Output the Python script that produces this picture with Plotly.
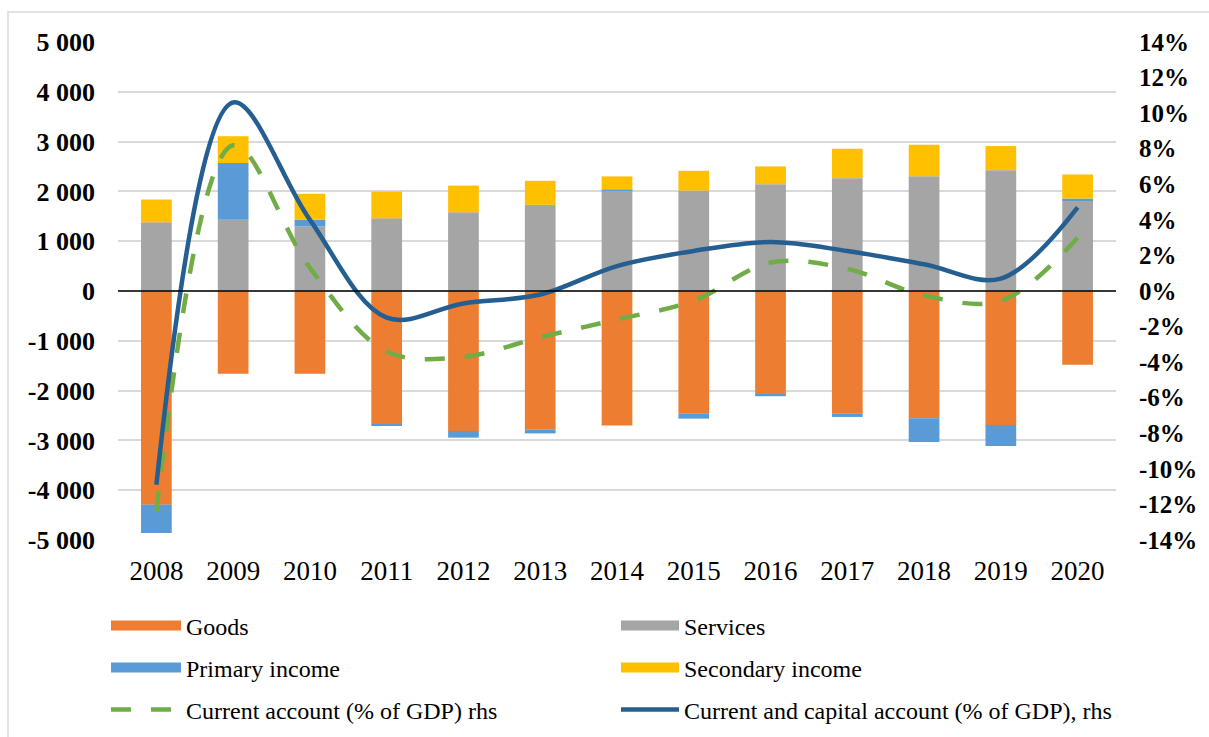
import plotly.graph_objects as go

years = ['2008', '2009', '2010', '2011', '2012', '2013', '2014', '2015', '2016', '2017', '2018', '2019', '2020']
goods = [-4290, -1660, -1660, -2680, -2810, -2780, -2700, -2455, -2080, -2455, -2555, -2690, -1480]
services = [1380, 1430, 1295, 1460, 1580, 1730, 2018, 2018, 2145, 2266, 2306, 2427, 1817]
primary_income = [-570, 1140, 140, -15, -135, -80, 15, -108, -33, -74, -477, -423, 40]
secondary_income = [457, 538, 517, 537, 537, 483, 268, 396, 356, 591, 632, 483, 483]
current_account = [-12.4, 8.2, 1.3, -3.4, -3.7, -2.6, -1.6, -0.55, 1.6, 1.25, -0.25, -0.55, 3.0]
cur_cap_account = [-10.9, 10.6, 4.0, -1.5, -0.7, -0.2, 1.4, 2.25, 2.75, 2.25, 1.5, 0.7, 4.7]

left_tickvals = [-5000, -4000, -3000, -2000, -1000, 0, 1000, 2000, 3000, 4000, 5000]
left_ticktext = ['-5 000', '-4 000', '-3 000', '-2 000', '-1 000', '0', '1 000', '2 000', '3 000', '4 000', '5 000']
right_tickvals = [-14, -12, -10, -8, -6, -4, -2, 0, 2, 4, 6, 8, 10, 12, 14]
right_ticktext = ['-14%', '-12%', '-10%', '-8%', '-6%', '-4%', '-2%', '0%', '2%', '4%', '6%', '8%', '10%', '12%', '14%']

C_GOODS = '#ED7D31'
C_SERV = '#A5A5A5'
C_PRIM = '#5B9BD5'
C_SEC = '#FFC000'
C_CA = '#70AD47'
C_CCA = '#255E91'
FONT = 'Liberation Serif'

fig = go.Figure()
for name, vals, col in [('Goods', goods, C_GOODS), ('Services', services, C_SERV),
                        ('Primary income', primary_income, C_PRIM), ('Secondary income', secondary_income, C_SEC)]:
    fig.add_trace(go.Bar(x=years, y=vals, name=name, marker=dict(color=col, line=dict(width=0)),
                         showlegend=False))

fig.add_trace(go.Scatter(x=years, y=current_account, yaxis='y2', mode='lines', showlegend=False,
                         line=dict(color=C_CA, width=4.5, dash='20px,20px', shape='spline', smoothing=1)))
fig.add_trace(go.Scatter(x=years, y=cur_cap_account, yaxis='y2', mode='lines', showlegend=False,
                         line=dict(color=C_CCA, width=4.5, shape='spline', smoothing=1)))


def py(p):
    # pixel row -> paper y (plot area spans pixel rows 42..540)
    return (540 - p) / 498.0


def px(p):
    # pixel column -> paper x (plot area spans pixel columns 118..1116)
    return (p - 118) / 998.0


# legend entries (dummy traces so the symbols look like the reference), one legend per slot
legend_items = [
    ('Goods', dict(color=C_GOODS, width=12), 'legend', 0, 626),
    ('Services', dict(color=C_SERV, width=12), 'legend2', 1, 626),
    ('Primary income', dict(color=C_PRIM, width=12), 'legend3', 0, 668),
    ('Secondary income', dict(color=C_SEC, width=12), 'legend4', 1, 668),
    ('Current account (% of GDP) rhs', dict(color=C_CA, width=4.5, dash='20px,20px'), 'legend5', 0, 710),
    ('Current and capital account (% of GDP), rhs', dict(color=C_CCA, width=4.5), 'legend6', 1, 710),
]
legend_layout = {}
for name, ln, lg, col, row in legend_items:
    fig.add_trace(go.Scatter(x=[None], y=[None], mode='lines', name=name, line=ln, legend=lg))
    legend_layout[lg] = dict(
        orientation='h', font=dict(family=FONT, size=24, color='black'),
        itemwidth=70 if col == 0 else 58, bgcolor='rgba(0,0,0,0)',
        xanchor='left', yanchor='middle', x=px(106) if col == 0 else px(616), y=py(row))

fig.update_layout(
    width=1209, height=737,
    margin=dict(l=118, r=93, t=42, b=197, autoexpand=False),
    paper_bgcolor='white', plot_bgcolor='white',
    barmode='relative', bargap=0.6,
    font=dict(family=FONT, color='black'),
    xaxis=dict(type='category', showgrid=False, showline=False, ticks='', zeroline=False, automargin=False,
               tickfont=dict(family=FONT, size=27, color='black'), ticklabelstandoff=12),
    yaxis=dict(range=[-5000, 5000], tickvals=left_tickvals, ticktext=left_ticktext, automargin=False,
               showgrid=True, gridcolor='#D9D9D9', gridwidth=1.5, zeroline=False,
               tickfont=dict(family=FONT, size=26, color='black', weight='bold'), ticklabelstandoff=22),
    yaxis2=dict(range=[-14, 14], tickvals=right_tickvals, ticktext=right_ticktext, overlaying='y',
                side='right', showgrid=False, zeroline=False, automargin=False,
                tickfont=dict(family=FONT, size=25, color='black', weight='bold'), ticklabelstandoff=22),
    shapes=[
        dict(type='line', xref='paper', x0=0, x1=1, yref='y', y0=0, y1=0,
             line=dict(color='black', width=1.5), layer='above'),
        dict(type='rect', xref='paper', yref='paper', x0=px(8), x1=px(1230),
             y0=py(760), y1=py(12), line=dict(color='#D9D9D9', width=1.5), layer='below'),
    ],
    **legend_layout,
)

fig.write_html('out.html', config={'displayModeBar': False},
               post_script="document.body.style.margin='0px';")
